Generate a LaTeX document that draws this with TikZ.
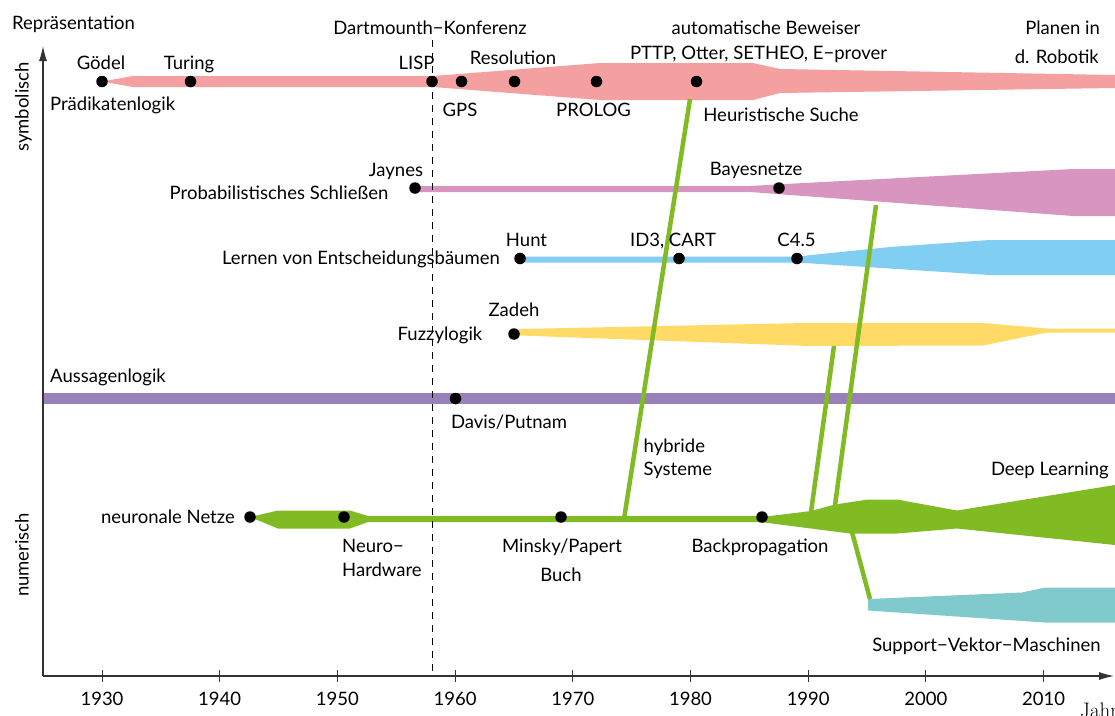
\documentclass[tikz,border=0pt]{standalone}
\usepackage{fontspec}
\setmainfont{Lato}
\newfontfamily\lmserif{Latin Modern Roman}
\usetikzlibrary{arrows.meta}
\definecolor{cred}{RGB}{244,160,160}
\definecolor{cpink}{RGB}{216,149,192}
\definecolor{cblue}{RGB}{128,206,242}
\definecolor{cyellow}{RGB}{255,218,102}
\definecolor{cpurple}{RGB}{152,128,184}
\definecolor{cgreen}{RGB}{128,187,36}
\definecolor{cteal}{RGB}{128,201,204}
\begin{document}
\begin{tikzpicture}[x=1pt,y=-1pt,
  every node/.style={inner sep=0pt, font=\fontsize{18.5}{22}\selectfont},
  lbl/.style={text height=13.3pt, text depth=0pt},
  dot/.style={circle, fill=black, minimum size=11.5pt, inner sep=0pt},
  hyb/.style={draw=cgreen, line width=4.5pt},
  axisline/.style={line width=1.2pt, draw=black!80},
]
\useasboundingbox (0,0) rectangle (1115,715);

% ---- bands ----
\fill[cred] (102,81.5) -- (133,76) -- (433,76) -- (600,63) -- (753,63) -- (780,69) -- (1115,75)
  -- (1115,88) -- (780,93) -- (753,100) -- (600,100) -- (433,87) -- (133,87) -- cycle;
\fill[cpink] (415,186) -- (750,186) -- (785,184) -- (1073,169) -- (1115,169)
  -- (1115,216) -- (1073,216) -- (750,192) -- (415,192) -- cycle;
\fill[cblue] (520,256.5) -- (797,256.5) -- (890,247) -- (990,240) -- (1115,240)
  -- (1115,275) -- (990,275) -- (797,262.5) -- (520,262.5) -- cycle;
\fill[cyellow] (514,334) -- (520,329) -- (805,323) -- (983,323) -- (1047,328.5) -- (1115,328.5)
  -- (1115,332.5) -- (1047,332.5) -- (983,345.5) -- (810,346) -- (520,335.5) -- cycle;
\fill[cpurple] (43,393) rectangle (1115,404);
\fill[cgreen] (250,517) -- (278,510.5) -- (350,510.5) -- (368,516) -- (770,516) -- (811,511)
  -- (835,504.5) -- (868,499.5) -- (897,499.5) -- (957,510.5) -- (1115,485)
  -- (1115,545) -- (957,528.5) -- (897,533.5) -- (850,533.5) -- (760,522) -- (368,522)
  -- (350,528.5) -- (278,528.5) -- cycle;
\fill[cteal] (868,599) -- (1022,592.5) -- (1045,587.5) -- (1115,587.5)
  -- (1115,622.5) -- (1045,622.5) -- (868,610.5) -- cycle;

% ---- hybrid connectors ----
\coordinate (h1a) at (624,519);  \coordinate (h1b) at (690,99);
\coordinate (h2a) at (811,512);  \coordinate (h2b) at (834,346);
\coordinate (h3a) at (835,505);  \coordinate (h3b) at (876,205);
\coordinate (h4a) at (852,532);  \coordinate (h4b) at (870,599);
\draw[hyb] (h1a) -- (h1b);
\draw[hyb] (h2a) -- (h2b);
\draw[hyb] (h3a) -- (h3b);
\draw[hyb] (h4a) -- (h4b);

% ---- axes ----
\coordinate (orig) at (43,676);
\coordinate (xend) at (1114,676);
\coordinate (yend) at (43,46);
\draw[axisline, -{Latex[length=15pt,width=8pt]}] (orig) -- (xend);
\draw[axisline, -{Latex[length=15pt,width=8pt]}] (orig) -- (yend);
\foreach \yr in {1930,1940,...,2010} {
  \draw[line width=1pt, black!80] ({102+(\yr-1930)*11.77},670) -- ({102+(\yr-1930)*11.77},682);
  \node[lbl] (yr\yr) at ({102+(\yr-1930)*11.77},699) {\yr};
}
\node[anchor=base west, font=\fontsize{21}{25}\selectfont\lmserif] (jahr) at (1080,717.5) {Jahr};

% ---- Dartmouth line ----
\coordinate (dtop) at (432,40);
\coordinate (dbot) at (432,676);
\draw[line width=0.9pt, dash pattern=on 7pt off 6pt] (dtop) -- (dbot);

% ---- dots ----
\node[dot] (gd) at (102,81.5) {};
\node[dot] (tu) at (190.5,81.5) {};
\node[dot] (li) at (432,81.5) {};
\node[dot] (gp) at (461.5,81.5) {};
\node[dot] (re) at (514.5,81.5) {};
\node[dot] (pr) at (596.5,81.5) {};
\node[dot] (pt) at (696.5,81.5) {};
\node[dot] (ja) at (415,188) {};
\node[dot] (ba) at (779,188) {};
\node[dot] (hu) at (520,258.5) {};
\node[dot] (id) at (679,258.5) {};
\node[dot] (c45) at (797,258.5) {};
\node[dot] (za) at (514,334) {};
\node[dot] (dp) at (455.5,398.5) {};
\node[dot] (nn) at (250,517) {};
\node[dot] (nh) at (344,517) {};
\node[dot] (mp) at (561,517) {};
\node[dot] (bp) at (762,517) {};

% ---- labels ----
\node[lbl, anchor=west] (trep) at (12,22.5) {Repräsentation};
\node[lbl, rotate=90] (tsym) at (22,107) {symbolisch};
\node[lbl, rotate=90] (tnum) at (22,555) {numerisch};
\node[lbl] (tdart) at (430,27.5) {Dartmounth−Konferenz};
\node[lbl] (tgod) at (101,62.5) {Gödel};
\node[lbl] (ttur) at (189,62.5) {Turing};
\node[lbl, anchor=west] (tpraed) at (50,103.5) {Prädikatenlogik};
\node[lbl] (tlisp) at (416.5,62.5) {LISP};
\node[lbl] (tgps) at (460,109.5) {GPS};
\node[lbl] (tres) at (513,57.5) {Resolution};
\node[lbl] (tprol) at (593.5,109.5) {PROLOG};
\node[lbl] (tauto) at (766,28) {automatische Beweiser};
\node[lbl] (tpttp) at (758.5,53) {PTTP, Otter, SETHEO, E−prover};
\node[lbl] (theur) at (781,115) {Heuristische Suche};
\node[lbl, anchor=east] (tplan) at (1100,28) {Planen in};
\node[lbl, anchor=east] (trob) at (1099,56.5) {d. Robotik};
\node[lbl] (tjay) at (396,169.5) {Jaynes};
\node[lbl, anchor=east] (tprob) at (388.5,192.5) {Probabilistisches Schließen};
\node[lbl] (tbay) at (756,169) {Bayesnetze};
\node[lbl] (thunt) at (526.5,240) {Hunt};
\node[lbl, anchor=east] (tlern) at (500,258) {Lernen von Entscheidungsbäumen};
\node[lbl] (tid3) at (673,240) {ID3, CART};
\node[lbl] (tc45) at (796.5,240) {C4.5};
\node[lbl] (tzad) at (514,310) {Zadeh};
\node[lbl, anchor=east] (tfuz) at (482.5,333.5) {Fuzzylogik};
\node[lbl, anchor=west] (taus) at (50,376) {Aussagenlogik};
\node[lbl] (tdav) at (509,422) {Davis/Putnam};
\node[lbl, anchor=west] (thyb1) at (643.5,446) {hybride};
\node[lbl, anchor=west] (thyb2) at (643.5,469) {Systeme};
\node[lbl, anchor=east] (tdeep) at (1109,469) {Deep Learning};
\node[lbl, anchor=east] (tnn) at (235,516.7) {neuronale Netze};
\node[lbl, anchor=west] (tneu1) at (342,545.5) {Neuro−};
\node[lbl, anchor=west] (tneu2) at (342,570) {Hardware};
\node[lbl] (tmin1) at (562,546) {Minsky/Papert};
\node[lbl] (tmin2) at (561,575) {Buch};
\node[lbl] (tback) at (760,546) {Backpropagation};
\node[lbl] (tsvm) at (986.5,645) {Support−Vektor−Maschinen};
\end{tikzpicture}
\end{document}
